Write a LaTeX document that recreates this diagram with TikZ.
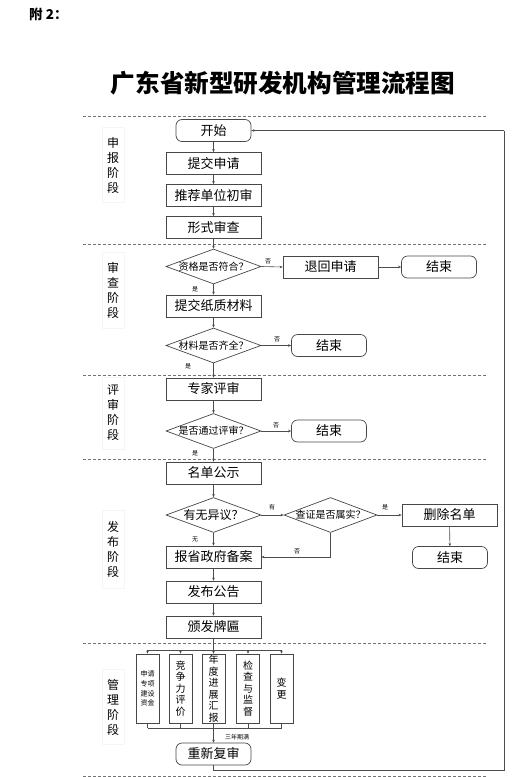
\documentclass[tikz,border=0pt]{standalone}
\usepackage{fontspec}
\setmainfont{Noto Sans CJK SC}
\usetikzlibrary{shapes.geometric,arrows.meta}
\tikzset{
  boxc/.style={draw=black!72, line width=0.7pt, fill=white, minimum width=95pt, minimum height=22pt, inner sep=0pt, font=\fontsize{13}{15}\selectfont},
  term/.style={boxc, rounded corners=6pt, minimum width=75pt},
  dec/.style={diamond, draw=black!72, line width=0.7pt, fill=white, minimum width=95pt, minimum height=35pt, inner sep=0pt},
  dfont/.style={font=\fontsize{10}{12}\selectfont},
  mbox/.style={draw=black!72, line width=0.7pt, fill=white, minimum width=23pt, minimum height=69pt, inner sep=0pt, align=center, font=\fontsize{10}{11.5}\selectfont},
  stage/.style={draw=black!4, fill=white, minimum width=22pt, inner sep=0pt, align=center, font=\fontsize{12}{15}\selectfont},
  sep/.style={draw=black!55, line width=0.6pt, dash pattern=on 3pt off 2pt},
  arr/.style={draw=black!70, line width=0.6pt, -{Stealth[length=3pt,width=2.6pt]}},
  ln/.style={draw=black!70, line width=0.6pt},
  lab/.style={font=\fontsize{6}{7}\selectfont, inner sep=0pt}
}
\begin{document}
\begin{tikzpicture}[x=1pt,y=-1pt]
\useasboundingbox (0,0) rectangle (532,777);
% header
\node[anchor=west, font=\fontsize{13.5}{15}\selectfont\bfseries, inner sep=0pt] (fu) at (29,14) {附 2：};
\node[font=\fontsize{24.6}{28}\selectfont\bfseries, inner sep=0pt] (title) at (283,83) {广东省新型研发机构管理流程图};
% separators
\foreach \yy/\nm in {116/a,244/b,375/c,459/d,643/e,776/f}{
  \coordinate (sl\nm) at (83,\yy);
  \coordinate (sr\nm) at (487,\yy);
  \draw[sep] (sl\nm) -- (sr\nm);
}
% stage labels
\node[stage, minimum height=75pt] (st1) at (113,165) {申\\报\\阶\\段};
\node[stage, minimum height=76pt] (st2) at (113,290) {审\\查\\阶\\段};
\node[stage, minimum height=72pt] (st3) at (113,413) {评\\审\\阶\\段};
\node[stage, minimum height=78pt] (st4) at (113,549) {发\\布\\阶\\段};
\node[stage, minimum height=75pt] (st5) at (113,707) {管\\理\\阶\\段};
% application stage
\node[term] (start) at (213.5,130.5) {开始};
\node[boxc] (s1) at (213.5,163.5) {提交申请};
\node[boxc] (s2) at (213.5,195.5) {推荐单位初审};
\node[boxc] (s3) at (213.5,227.5) {形式审查};
% review stage
\node[dec, label={[dfont]center:资格是否符合？}] (d1) at (213.5,266.5) {};
\node[boxc, minimum height=22pt] (r1) at (330.5,267) {退回申请};
\node[term] (e1) at (439,267) {结束};
\node[boxc] (s4) at (213.5,306) {提交纸质材料};
\node[dec, label={[dfont]center:材料是否齐全？}] (d2) at (213.5,345.5) {};
\node[term] (e2) at (329,345.5) {结束};
% evaluation stage
\node[boxc] (s5) at (213.5,389) {专家评审};
\node[dec, label={[dfont]center:是否通过评审？}] (d3) at (213.5,431) {};
\node[term] (e3) at (329,431) {结束};
% publication stage
\node[boxc] (s6) at (213.5,473) {名单公示};
\node[dec, label={[font=\fontsize{12}{14}\selectfont]center:有无异议？}] (d4) at (213.5,515) {};
\node[dec, minimum width=93pt, label={[dfont]center:查证是否属实？}] (d5) at (330.5,515) {};
\node[boxc] (r2) at (449.5,515) {删除名单};
\node[term] (e4) at (450,557.5) {结束};
\node[boxc] (s7) at (213.5,557) {报省政府备案};
\node[boxc] (s8) at (213.5,592) {发布公告};
\node[boxc] (s9) at (213.5,627) {颁发牌匾};
% management stage
\node[mbox, font=\fontsize{7}{9.7}\selectfont] (m1) at (147.5,688.5) {申请\\专项\\建设\\资金};
\node[mbox] (m2) at (180.5,688.5) {竞\\争\\力\\评\\价};
\node[mbox] (m3) at (213.5,688.5) {年\\度\\进\\展\\汇\\报};
\node[mbox] (m4) at (248,688.5) {检\\查\\与\\监\\督};
\node[mbox] (m5) at (281.5,688.5) {变\\更};
\node[term] (rv) at (213.5,754) {重新复审};
% coordinates
\coordinate (bt) at (213.5,650);
\coordinate (btl) at (147.5,650);
\coordinate (btr) at (281.5,650);
\coordinate (bb) at (213.5,728);
\coordinate (bbl) at (147.5,728);
\coordinate (bbr) at (281.5,728);
\coordinate (lp1) at (213.5,770);
\coordinate (lp2) at (504,770);
\coordinate (lp3) at (504,130.5);
\coordinate (nk) at (330.5,557);
% connectors
\draw[arr] (start) -- (s1);
\draw[arr] (s1) -- (s2);
\draw[arr] (s2) -- (s3);
\draw[arr] (s3) -- (d1);
\draw[arr] (d1.east) -- (r1.west);
\draw[arr] (r1) -- (e1);
\draw[arr] (d1) -- (s4);
\draw[arr] (s4) -- (d2);
\draw[arr] (d2.east) -- (e2.west);
\draw[arr] (d2) -- (s5);
\draw[arr] (s5) -- (d3);
\draw[arr] (d3.east) -- (e3.west);
\draw[arr] (d3) -- (s6);
\draw[arr] (s6) -- (d4);
\draw[arr] (d4.east) -- (d5.west);
\draw[arr] (d5.east) -- (r2.west);
\draw[arr] (r2) -- (e4);
\draw[arr] (d4) -- (s7);
\draw[ln] (d5.south) -- (nk);
\draw[arr] (nk) -- (s7.east);
\draw[arr] (s7) -- (s8);
\draw[arr] (s8) -- (s9);
\draw[ln] (s9.south) -- (bt);
\draw[ln] (btl) -- (btr);
\foreach \m/\xx in {m1/147.5,m2/180.5,m3/213.5,m4/248,m5/281.5}{
  \draw[arr] (\xx,650) -- (\m.north);
  \draw[ln] (\m.south) -- (\xx,728);
}
\draw[ln] (bbl) -- (bbr);
\draw[arr] (bb) -- (rv.north);
\draw[ln] (rv.south) -- (lp1) -- (lp2) -- (lp3);
\draw[arr] (lp3) -- (start.east);
% edge labels
\node[lab] (l1) at (268,261) {否};
\node[lab] (l2) at (195,289) {是};
\node[lab] (l3) at (277,339) {否};
\node[lab] (l4) at (188,366) {是};
\node[lab] (l5) at (276,425) {否};
\node[lab] (l6) at (195,453) {是};
\node[lab] (l7) at (272,507) {有};
\node[lab] (l8) at (385,507) {是};
\node[lab] (l9) at (195,539) {无};
\node[lab] (l10) at (297,551) {否};
\node[lab] (l11) at (237,737) {三年期满};
\end{tikzpicture}
\end{document}
